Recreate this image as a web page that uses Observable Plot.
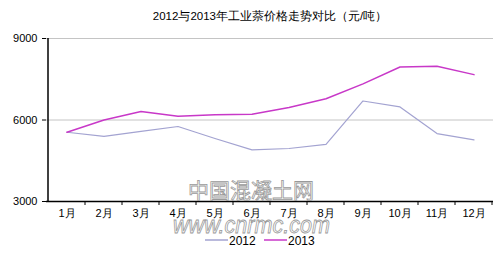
<!DOCTYPE html>
<html><head><meta charset="utf-8">
<script src="https://cdn.jsdelivr.net/npm/d3@7"></script>
<script src="https://cdn.jsdelivr.net/npm/@observablehq/plot@0.6"></script>
<style>body{margin:0;background:#fff}svg{display:block}</style>
</head><body><div id="chart"></div>
<script>
const months = ["1月","2月","3月","4月","5月","6月","7月","8月","9月","10月","11月","12月"];
const v2012 = [5550,5400,5580,5760,5320,4900,4950,5100,6700,6480,5500,5270];
const v2013 = [5550,6000,6310,6140,6190,6210,6460,6780,7330,7950,7980,7670];
const yTicks = [3000,6000,9000];
const seriesNames = ["2012","2013"];
const colors = ["#a3a3d1","#c838c8"];

const data = [];
months.forEach((m,i)=>{
  data.push({month:m, value:v2012[i], series:"2012"});
  data.push({month:m, value:v2013[i], series:"2013"});
});

const W=500,H=254, mL=46, mR=7, mT=38, mB=53;
const font = "'Liberation Sans', Arial, sans-serif";

const plot = Plot.plot({
  width:W, height:H,
  marginLeft:mL, marginRight:mR, marginTop:mT, marginBottom:mB,
  style:{fontFamily:font, fontSize:"11px", color:"#000", background:"#fff"},
  x:{type:"band", domain:months, padding:0, axis:null},
  y:{type:"linear", domain:[3000,9000], axis:null},
  marks:[
    Plot.ruleY(yTicks.filter(d=>d>3000), {stroke:"#c4c4c4", strokeWidth:1}),
    Plot.axisY(yTicks, {tickSize:4, tickPadding:5, stroke:"#000", fontSize:11, label:null, tickFormat:d=>String(d)}),
    Plot.ruleY([3000], {stroke:"#000", strokeWidth:1.5}),
    Plot.text(months, {x:d=>d, y:()=>3000, dy:12, fontSize:11, fill:"#000"}),
    Plot.lineY(data.filter(d=>d.series==="2012"), {x:"month", y:"value", stroke:colors[0], strokeWidth:1.2}),
    Plot.lineY(data.filter(d=>d.series==="2013"), {x:"month", y:"value", stroke:colors[1], strokeWidth:1.5})
  ]
});
document.getElementById("chart").append(plot);

const svg = d3.select(plot);
const xs = plot.scale("x"), ys = plot.scale("y");
const y0 = ys.apply(3000), y1 = ys.apply(9000);
const x0 = xs.apply(months[0]);
svg.append("line").attr("x1",x0).attr("x2",x0).attr("y1",y1).attr("y2",y0)
  .attr("stroke","#000").attr("stroke-width",1.5);
months.forEach(m=>{
  const xe = xs.apply(m) + xs.bandwidth;
  svg.append("line").attr("x1",xe).attr("x2",xe).attr("y1",y0).attr("y2",y0+4)
    .attr("stroke","#000").attr("stroke-width",1);
});

svg.append("text").attr("x",270).attr("y",20).attr("text-anchor","middle")
  .attr("font-family",font).attr("font-size",11.5).attr("fill","#000")
  .text("2012与2013年工业萘价格走势对比（元/吨）");

// watermark
svg.append("text").attr("x",251).attr("y",198).attr("text-anchor","middle")
  .attr("font-family","'Noto Sans CJK SC', sans-serif").attr("font-size",21)
  .attr("fill","#fff").attr("fill-opacity",0.6).attr("stroke","#999").attr("stroke-width",0.8)
  .text("中国混凝土网");
svg.append("text").attr("x",173).attr("y",233).attr("text-anchor","start")
  .attr("font-family",font).attr("font-size",23).attr("font-style","italic")
  .attr("textLength",157).attr("lengthAdjust","spacingAndGlyphs")
  .attr("fill","#fff").attr("fill-opacity",0.6).attr("stroke","#999").attr("stroke-width",0.8)
  .text("www.cnrmc.com");

// legend
const lg = svg.append("g").attr("font-family",font).attr("font-size",12).attr("text-anchor","start");
const lx = [205,264];
seriesNames.forEach((s,i)=>{
  lg.append("line").attr("x1",lx[i]).attr("x2",lx[i]+23).attr("y1",240).attr("y2",240)
    .attr("stroke",colors[i]).attr("stroke-width",1.5);
  lg.append("text").attr("x",lx[i]+24).attr("y",245).attr("fill","#000").text(s);
});
</script></body></html>
